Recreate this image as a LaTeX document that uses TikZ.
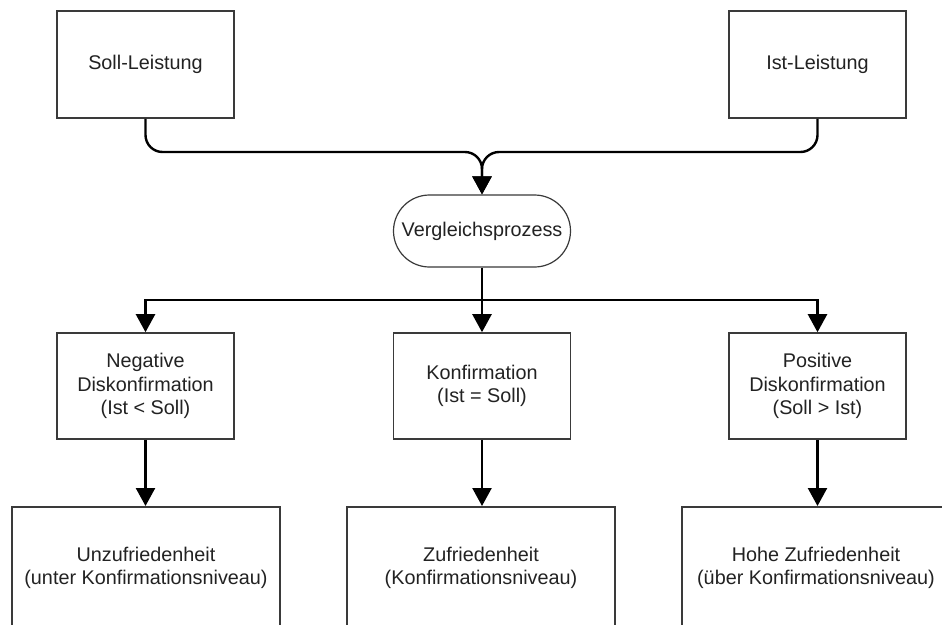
\documentclass[tikz,border=0pt]{standalone}
\usepackage{fontspec}
\setmainfont{Liberation Sans}
\usetikzlibrary{arrows.meta}
\definecolor{boxline}{HTML}{3A3A3A}
\definecolor{txt}{HTML}{222222}
\tikzset{
  every node/.style={font=\fontsize{19.8}{23.5}\selectfont, text=txt},
  stepbox/.style={draw=boxline, line width=1.6pt, minimum width=177pt, minimum height=107pt,
                  inner sep=0pt, align=center},
  resultbox/.style={draw=boxline, line width=1.6pt, minimum width=268pt, minimum height=136pt,
                  inner sep=0pt, align=center, anchor=north},
  procbox/.style={draw=boxline, line width=1.2pt, minimum width=177pt, minimum height=72pt,
                  inner sep=0pt, rounded corners=36pt},
  flow/.style={draw=black, line width=2.4pt},
  flowarrow/.style={flow, -{Triangle[length=18pt,width=19pt]}}
}
\begin{document}
\begin{tikzpicture}[x=1pt, y=-1pt]
  \clip (0,0) rectangle (942,624);
  \fill[white] (0,0) rectangle (942,624);

  % inputs
  \node[stepbox] (soll) at (145.5,64.5) {Soll-Leistung};
  \node[stepbox] (ist)  at (817.5,64.5) {Ist-Leistung};

  % comparison
  \node[procbox] (vp) at (482,231) {Vergleichsprozess};

  % outcomes of the comparison
  \node[stepbox, minimum height=106pt] (neg)  at (145.5,386) {Negative\\Diskonfirmation\\(Ist < Soll)};
  \node[stepbox, minimum height=106pt] (konf) at (482,386)   {Konfirmation\\(Ist = Soll)};
  \node[stepbox, minimum height=106pt] (pos)  at (817.5,386) {Positive\\Diskonfirmation\\(Soll > Ist)};

  % resulting satisfaction levels
  \node[resultbox] (unz) at (146,506) {Unzufriedenheit\\(unter Konfirmationsniveau)\rule[-18pt]{0pt}{0pt}};
  \node[resultbox] (zuf) at (481,506) {Zufriedenheit\\(Konfirmationsniveau)\rule[-18pt]{0pt}{0pt}};
  \node[resultbox] (hoh) at (816,506) {Hohe Zufriedenheit\\(über Konfirmationsniveau)\rule[-18pt]{0pt}{0pt}};

  % merging connectors into the comparison
  \coordinate (merge) at (482,152);
  \draw[flowarrow, rounded corners=17pt] (soll.south) |- (merge) -- (vp.north);
  \draw[flowarrow, rounded corners=17pt] (ist.south) |- (merge) -- (vp.north);

  % branching connectors
  \coordinate (split) at (482,300);
  \draw[flow] (vp.south) -- (split);
  \draw[flowarrow] (split) -| (neg.north);
  \draw[flowarrow] (split) -| (pos.north);
  \draw[flowarrow] (split) -- (konf.north);

  % outcome to satisfaction
  \draw[flowarrow] (neg.south) -- (neg.south |- unz.north);
  \draw[flowarrow] (konf.south) -- (konf.south |- zuf.north);
  \draw[flowarrow] (pos.south) -- (pos.south |- hoh.north);
\end{tikzpicture}
\end{document}
